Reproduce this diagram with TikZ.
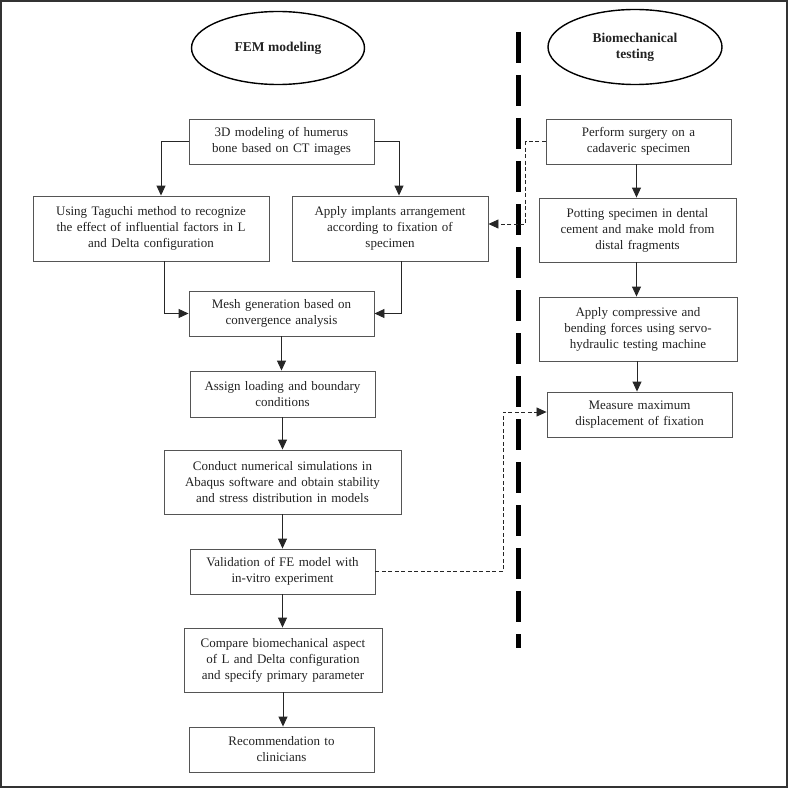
\documentclass[tikz,border=0pt]{standalone}
\usepackage{fontspec}
\setmainfont{Liberation Serif}
\usetikzlibrary{arrows.meta,calc,shapes.geometric}
\definecolor{boxgray}{HTML}{555555}
\definecolor{txtgray}{HTML}{222222}
\begin{document}
\begin{tikzpicture}[x=1pt,y=-1pt,
  box/.style={draw=boxgray,line width=0.9pt,rectangle,align=center,inner sep=1pt,
    font=\fontsize{13}{16}\selectfont,text=txtgray},
  oval/.style={draw=black,line width=1.4pt,ellipse,align=center,inner sep=0pt,
    font=\bfseries\fontsize{13.5}{16}\selectfont,text=txtgray},
  arr/.style={draw=black!85,line width=0.9pt,-{Triangle[length=10pt,width=9pt]}},
  darr/.style={draw=black!85,line width=0.8pt,dash pattern=on 4pt off 2.5pt,-{Triangle[length=10pt,width=9pt]}}]
\useasboundingbox (0,0) rectangle (788,789);
\draw[line width=1.6pt,draw=black!80] (1,1) rectangle (787,787);

\node[oval,minimum width=173,minimum height=73] (fem) at (278,48) {FEM modeling};
\node[oval,minimum width=174,minimum height=75] (bio) at (635,47) {Biomechanical\\testing};

\coordinate (dtop) at (518.5,32);
\coordinate (dbot) at (518.5,648);
\draw[line width=4.5pt,dash pattern=on 31pt off 12pt] (dtop) -- (dbot);

\node[box,minimum width=185,minimum height=45,text width=183] (b1) at (281.5,141.5) {3D modeling of humerus\\bone based on CT images};
\node[box,minimum width=236,minimum height=65,text width=234] (b2) at (151,228.5) {Using Taguchi method to recognize\\the effect of influential factors in L\\and Delta configuration};
\node[box,minimum width=196,minimum height=65,text width=194] (b3) at (390,228.5) {Apply implants arrangement\\according to fixation of\\specimen};
\node[box,minimum width=185,minimum height=45,text width=183] (b4) at (281.5,313.5) {Mesh generation based on\\convergence analysis};
\node[box,minimum width=185,minimum height=46,text width=183] (b5) at (282.5,394) {Assign loading and boundary\\conditions};
\node[box,minimum width=237,minimum height=64,text width=235] (b6) at (282.5,482) {Conduct numerical simulations in\\Abaqus software and obtain stability\\and stress distribution in models};
\node[box,minimum width=185,minimum height=45,text width=183] (b7) at (282.5,571.5) {Validation of FE model with\\in-vitro experiment};
\node[box,minimum width=198,minimum height=64,text width=196] (b8) at (283,660) {Compare biomechanical aspect\\of L and Delta configuration\\and specify primary parameter};
\node[box,minimum width=185,minimum height=45,text width=183] (b9) at (281.5,749.5) {Recommendation to\\clinicians};

\node[box,minimum width=185,minimum height=45,text width=183] (r1) at (638.5,141.5) {Perform surgery on a\\cadaveric specimen};
\node[box,minimum width=197,minimum height=64,text width=195] (r2) at (637.5,230) {Potting specimen in dental\\cement and make mold from\\distal fragments};
\node[box,minimum width=198,minimum height=64,text width=196] (r3) at (638,329) {Apply compressive and\\bending forces using servo-\\hydraulic testing machine};
\node[box,minimum width=185,minimum height=45,text width=183] (r4) at (639.5,414.5) {Measure maximum\\displacement of fixation};

\draw[arr] (b1.west) -| ([xshift=10pt]b2.north);
\draw[arr] (b1.east) -| ([xshift=9pt]b3.north);
\draw[arr] ([xshift=13pt]b2.south) |- (b4.west);
\draw[arr] ([xshift=11pt]b3.south) |- (b4.east);
\draw[arr] (b4.south) -- (b4.south |- b5.north);
\draw[arr] (b5.south) -- (b5.south |- b6.north);
\draw[arr] (b6.south) -- (b6.south |- b7.north);
\draw[arr] (b7.south) -- (b7.south |- b8.north);
\draw[arr] (b8.south) -- (b8.south |- b9.north);

\draw[arr] ([xshift=-2pt]r1.south) -- ([xshift=-2pt]r1.south |- r2.north);
\draw[arr] ([xshift=-1pt]r2.south) -- ([xshift=-1pt]r2.south |- r3.north);
\draw[arr] ([xshift=-1pt]r3.south) -- ([xshift=-1pt]r3.south |- r4.north);

\coordinate (k1) at ($(r1.west)+(-20,0)$);
\draw[darr] (r1.west) -- (k1) |- ([yshift=4.5pt]b3.east);
\coordinate (k2) at (503,571.5);
\draw[darr] (b7.east) -- (k2) |- ([yshift=2.5pt]r4.west);
\end{tikzpicture}
\end{document}
